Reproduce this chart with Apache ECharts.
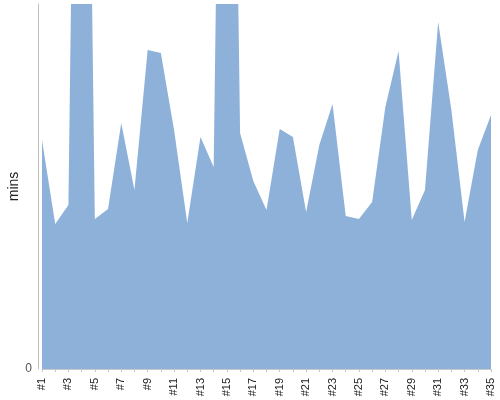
<!DOCTYPE html>
<html>
<head>
<meta charset="utf-8">
<script src="https://cdn.jsdelivr.net/npm/echarts@6/dist/echarts.min.js"></script>
<style>
  html, body { margin: 0; padding: 0; background: #fff; }
  #chart { width: 500px; height: 400px; }
</style>
</head>
<body>
<div id="chart"></div>
<script>
// categories #1 .. #35
var categories = ["#1", "#2", "#3", "#4", "#5", "#6", "#7", "#8", "#9", "#10",
  "#11", "#12", "#13", "#14", "#15", "#16", "#17", "#18", "#19", "#20",
  "#21", "#22", "#23", "#24", "#25", "#26", "#27", "#28", "#29", "#30",
  "#31", "#32", "#33", "#34", "#35"];

// values (axis top is 365, two spikes run off the top)
var mins = [229, 145, 164, 1200, 150, 160, 246, 179, 319, 316,
  239, 146, 232, 202, 1200, 236, 188, 159, 240, 232,
  157, 224, 265, 153, 150, 167, 262, 318, 149, 179,
  347, 259, 147, 219, 254];

var yMax = 365;

var chart = echarts.init(document.getElementById("chart"));

var option = {
  animation: false,
  grid: { left: 42, right: 9, top: 4, bottom: 31, containLabel: false, outerBoundsMode: "none" },
  xAxis: {
    type: "category",
    data: categories,
    boundaryGap: false,
    offset: 4,
    axisLine: { show: true, lineStyle: { color: "#c8c8c8", width: 1 } },
    axisTick: { show: true, interval: 0, length: 3, lineStyle: { color: "#c8c8c8" } },
    axisLabel: {
      interval: 1,
      rotate: 90,
      margin: 5,
      fontSize: 11,
      fontFamily: "Liberation Sans",
      color: "#222"
    }
  },
  yAxis: {
    type: "value",
    min: 0,
    max: yMax,
    interval: yMax,
    offset: 4,
    name: "mins",
    nameLocation: "middle",
    nameRotate: 90,
    nameGap: 17,
    nameMoveOverlap: false,
    nameTextStyle: { fontSize: 14, fontFamily: "Liberation Sans", color: "#222" },
    axisLine: { show: true, lineStyle: { color: "#c0c0c0", width: 1 } },
    axisTick: { show: false },
    splitLine: { show: false },
    axisLabel: {
      margin: 6,
      fontSize: 12,
      fontFamily: "Liberation Sans",
      color: "#555",
      formatter: function (v) { return v === 0 ? "0" : ""; }
    }
  },
  series: [
    {
      type: "line",
      data: mins,
      symbol: "none",
      lineStyle: { width: 0 },
      areaStyle: { color: "#8eb1da", opacity: 1 },
      clip: true
    }
  ]
};

chart.setOption(option);
</script>
</body>
</html>
